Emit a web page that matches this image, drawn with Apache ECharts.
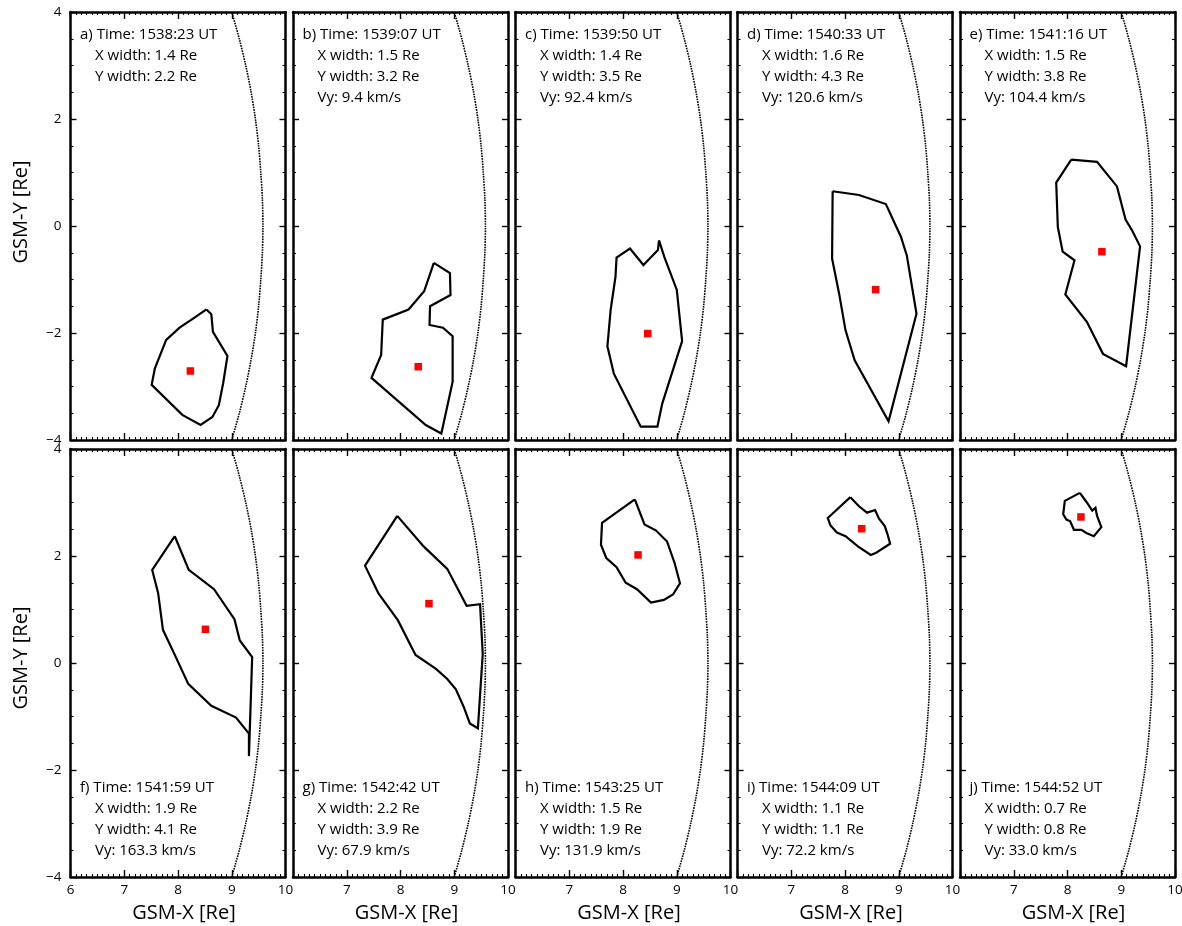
<!DOCTYPE html>
<html>
<head>
<meta charset="utf-8">
<title>GSM equatorial cross-sections</title>
<script src="https://cdn.jsdelivr.net/npm/echarts@6/dist/echarts.min.js"></script>
<style>
  html, body { margin: 0; padding: 0; background: #fff; }
  #chart { width: 1182px; height: 926px; }
</style>
</head>
<body>
<div id="chart"></div>
<script>
// ---- data ---------------------------------------------------------------
const panelLetters = ['a', 'b', 'c', 'd', 'e', 'f', 'g', 'h', 'i', 'j'];
const times = ['1538:23', '1539:07', '1539:50', '1540:33', '1541:16',
               '1541:59', '1542:42', '1543:25', '1544:09', '1544:52'];
const xWidths = [1.4, 1.5, 1.4, 1.6, 1.5, 1.9, 2.2, 1.5, 1.1, 0.7];
const yWidths = [2.2, 3.2, 3.5, 4.3, 3.8, 4.1, 3.9, 1.9, 1.1, 0.8];
const vySpeeds = [null, 9.4, 92.4, 120.6, 104.4, 163.3, 67.9, 131.9, 72.2, 33.0];

// centre of each region [GSM-X, GSM-Y]
const centroids = [
  [8.23, -2.71], [8.33, -2.63], [8.46, -2.01], [8.57, -1.19], [8.64, -0.48],
  [8.51, 0.63], [8.53, 1.11], [8.28, 2.02], [8.31, 2.51], [8.25, 2.73]
];

// region outlines, [GSM-X, GSM-Y] vertices in drawing order
const outlineA = [[8.53,-1.56],[8.62,-1.65],[8.65,-1.98],[8.92,-2.43],[8.84,-2.94],[8.76,-3.35],[8.64,-3.57],[8.42,-3.72],[8.08,-3.53],[7.51,-2.97],[7.57,-2.66],[7.78,-2.13],[8.03,-1.90],[8.28,-1.73]];
const outlineB = [[8.62,-0.69],[8.92,-0.88],[8.93,-1.29],[8.55,-1.50],[8.54,-1.85],[8.79,-1.90],[8.97,-2.06],[8.97,-2.91],[8.76,-3.88],[8.47,-3.72],[7.46,-2.84],[7.64,-2.41],[7.67,-1.75],[8.15,-1.56],[8.44,-1.22]];
const outlineC = [[8.67,-0.27],[8.65,-0.45],[8.38,-0.73],[8.13,-0.42],[7.88,-0.59],[7.86,-0.95],[7.77,-1.57],[7.71,-2.25],[7.83,-2.76],[8.33,-3.75],[8.64,-3.75],[8.73,-3.32],[9.10,-2.15],[9.00,-1.19],[8.77,-0.58]];
const outlineD = [[7.77,0.65],[8.26,0.58],[8.76,0.41],[9.04,-0.20],[9.15,-0.55],[9.33,-1.64],[8.81,-3.65],[8.18,-2.51],[8.01,-1.95],[7.89,-1.26],[7.76,-0.61]];
const outlineE = [[8.07,1.24],[8.55,1.20],[8.92,0.74],[9.08,0.12],[9.20,-0.08],[9.35,-0.38],[9.09,-2.62],[8.66,-2.39],[8.36,-1.79],[7.96,-1.28],[8.13,-0.64],[7.91,-0.48],[7.82,-0.02],[7.79,0.81]];
const outlineF = [[7.94,2.37],[8.20,1.74],[8.67,1.38],[9.05,0.82],[9.15,0.42],[9.38,0.11],[9.32,-1.74],[9.32,-1.32],[9.08,-1.02],[8.62,-0.80],[8.19,-0.39],[7.96,0.11],[7.72,0.62],[7.63,1.31],[7.52,1.74]];
const outlineG = [[7.94,2.75],[8.43,2.18],[8.87,1.76],[9.23,1.07],[9.48,1.10],[9.53,0.17],[9.44,-1.22],[9.29,-1.13],[9.18,-0.83],[9.03,-0.49],[8.87,-0.30],[8.66,-0.11],[8.28,0.15],[7.95,0.80],[7.59,1.30],[7.34,1.82]];
const outlineH = [[8.22,3.06],[8.40,2.59],[8.61,2.48],[8.82,2.27],[8.96,1.87],[9.06,1.49],[8.93,1.28],[8.76,1.18],[8.52,1.13],[8.26,1.38],[8.05,1.50],[7.88,1.79],[7.69,1.96],[7.59,2.21],[7.61,2.62]];
const outlineI = [[8.10,3.10],[8.26,2.93],[8.41,2.81],[8.56,2.86],[8.63,2.70],[8.74,2.56],[8.79,2.41],[8.84,2.23],[8.58,2.06],[8.48,2.02],[8.24,2.18],[8.01,2.37],[7.85,2.44],[7.73,2.57],[7.68,2.71]];
const outlineJ = [[8.23,3.18],[8.36,3.00],[8.46,2.85],[8.52,2.90],[8.55,2.75],[8.63,2.54],[8.49,2.37],[8.35,2.43],[8.26,2.49],[8.12,2.49],[8.05,2.65],[7.98,2.68],[7.92,2.78],[7.95,3.03]];
const outlines = [outlineA, outlineB, outlineC, outlineD, outlineE,
                  outlineF, outlineG, outlineH, outlineI, outlineJ];

// dotted reference boundary: GSM-X at each GSM-Y
const boundaryY = [-4, -3.5, -3, -2.5, -2, -1.5, -1, -0.5, 0, 0.5, 1, 1.5, 2, 2.5, 3, 3.5, 4];
const boundaryX = [9.00, 9.14, 9.26, 9.36, 9.44, 9.50, 9.54, 9.57, 9.58, 9.57, 9.54, 9.50, 9.44, 9.36, 9.26, 9.14, 9.00];

// axis ticks
const xTickValues = [6, 7, 8, 9, 10];
const yTickValues = [-4, -2, 0, 2, 4];

// ---- layout -------------------------------------------------------------
const colLeft = [70.5, 293, 515.5, 737.5, 960];
const rowTop = [12, 449];
const panelW = 215;
const panelH = 428;
const FONT = '"Open Sans", "Noto Sans", sans-serif';

const xMin = xTickValues[0], xMax = xTickValues[xTickValues.length - 1];
const yMin = yTickValues[0], yMax = yTickValues[yTickValues.length - 1];
const xStep = xTickValues[1] - xTickValues[0];
const yStep = yTickValues[1] - yTickValues[0];

const minusFmt = v => (v < 0 ? '\u2212' + Math.abs(v) : String(v));

const grids = [], xAxes = [], yAxes = [], series = [], graphics = [];

const axisLine = { show: true, onZero: false, lineStyle: { color: '#000', width: 2.5 } };

for (let i = 0; i < 10; i++) {
  const row = Math.floor(i / 5), col = i % 5;
  const left = colLeft[col], top = rowTop[row];
  grids.push({ left: left, top: top, width: panelW, height: panelH,
               containLabel: false, outerBoundsMode: 'none' });

  ['bottom', 'top'].forEach(pos => {
    xAxes.push({
      gridIndex: i, type: 'value', position: pos,
      min: xMin, max: xMax, interval: xStep,
      axisLine: axisLine,
      axisTick: { show: true, inside: true, length: 7, lineStyle: { color: '#000', width: 1.4 } },
      minorTick: { show: true, splitNumber: 10, length: 3, lineStyle: { color: '#000', width: 1.1 } },
      splitLine: { show: false }, minorSplitLine: { show: false },
      axisLabel: {
        show: pos === 'bottom' && row === 1,
        showMinLabel: col === 0,
        margin: 6, color: '#000', fontSize: 13.5, fontFamily: FONT
      }
    });
  });
  ['left', 'right'].forEach(pos => {
    yAxes.push({
      gridIndex: i, type: 'value', position: pos,
      min: yMin, max: yMax, interval: yStep,
      axisLine: axisLine,
      axisTick: { show: true, inside: true, length: 6, lineStyle: { color: '#000', width: 1.4 } },
      minorTick: { show: true, splitNumber: 4, length: 3, lineStyle: { color: '#000', width: 1.1 } },
      splitLine: { show: false }, minorSplitLine: { show: false },
      axisLabel: {
        show: pos === 'left' && col === 0,
        formatter: minusFmt,
        margin: 9, color: '#000', fontSize: 13.5, fontFamily: FONT
      }
    });
  });

  const axisIdx = 2 * i;

  // dotted boundary curve
  series.push({
    type: 'line', xAxisIndex: axisIdx, yAxisIndex: axisIdx,
    data: boundaryY.map((y, k) => [boundaryX[k], y]),
    showSymbol: false, symbol: 'none', smooth: 0.3, silent: true,
    lineStyle: { color: '#000', width: 1.6, type: [1.6, 1.0] }, z: 2
  });
  // region outline (closed)
  const ring = outlines[i].concat([outlines[i][0]]);
  series.push({
    type: 'line', xAxisIndex: axisIdx, yAxisIndex: axisIdx,
    data: ring, showSymbol: false, symbol: 'none', silent: true,
    lineStyle: { color: '#000', width: 2.2, join: 'miter' }, z: 3
  });
  // region centre
  series.push({
    type: 'scatter', xAxisIndex: axisIdx, yAxisIndex: axisIdx,
    data: [centroids[i]], symbol: 'rect', symbolSize: 7.5,
    itemStyle: { color: '#ff0000', opacity: 1 }, silent: true, z: 5
  });

  // annotation block
  const lines = [
    panelLetters[i] + ') Time: ' + times[i] + ' UT',
    'X width: ' + xWidths[i].toFixed(1) + ' Re',
    'Y width: ' + yWidths[i].toFixed(1) + ' Re'
  ];
  if (vySpeeds[i] !== null) lines.push('Vy: ' + vySpeeds[i].toFixed(1) + ' km/s');
  const firstY = row === 0 ? top + 23 : top + 339;
  lines.forEach((txt, k) => {
    graphics.push({
      type: 'text',
      x: left + (k === 0 ? 9.5 : 24.5),
      y: firstY + 21 * k,
      silent: true,
      style: { text: txt, font: '15px ' + FONT, fill: '#000', align: 'left', verticalAlign: 'middle' }
    });
  });

  // x-axis title under the bottom row
  if (row === 1) {
    graphics.push({
      type: 'text', x: left + panelW / 2 + 6, y: 913, silent: true,
      style: { text: 'GSM-X [Re]', font: '20px ' + FONT, fill: '#000', align: 'center', verticalAlign: 'middle' }
    });
  }
}

// y-axis titles
[212, 658].forEach(cy => {
  graphics.push({
    type: 'text', x: 21, y: cy, rotation: Math.PI / 2, silent: true,
    style: { text: 'GSM-Y [Re]', font: '20px ' + FONT, fill: '#000', align: 'center', verticalAlign: 'middle' }
  });
});

const chart = echarts.init(document.getElementById('chart'), null, { renderer: 'canvas' });
chart.setOption({
  animation: false,
  backgroundColor: '#fff',
  grid: grids,
  xAxis: xAxes,
  yAxis: yAxes,
  series: series,
  graphic: graphics
});
</script>
</body>
</html>
